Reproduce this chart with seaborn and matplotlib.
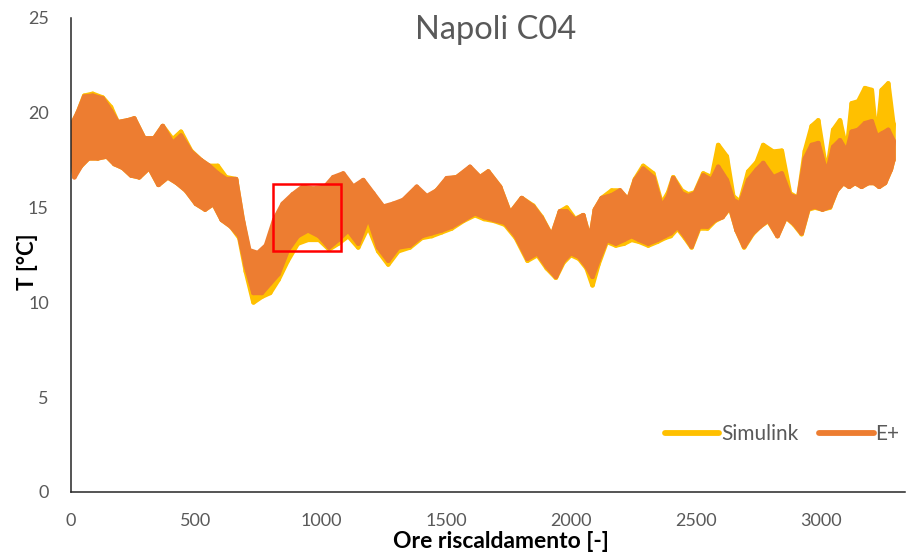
import matplotlib
matplotlib.use("Agg")
import matplotlib.pyplot as plt
from matplotlib.patches import Rectangle
from matplotlib.ticker import MultipleLocator
import pandas as pd
import seaborn as sns

# Hours of heating at which the daily peak / trough of each series was taken
ore = [0, 27, 53, 87, 127, 160, 187, 227, 253, 293, 333, 367, 407, 440, 480,
       520, 553, 587, 620, 660, 687, 713, 747, 780, 813, 847, 887, 927, 969,
       1016, 1049, 1089, 1129, 1169, 1209, 1249, 1289, 1329, 1383, 1423, 1463,
       1503, 1543, 1596, 1636, 1669, 1716, 1756, 1803, 1849, 1883, 1923, 1956,
       1983, 2016, 2049, 2076, 2096, 2123, 2163, 2196, 2229, 2256, 2289, 2329,
       2363, 2389, 2409, 2443, 2469, 2496, 2529, 2563, 2589, 2623, 2649, 2676,
       2709, 2743, 2769, 2809, 2843, 2876, 2909, 2936, 2963, 2989, 3023, 3049,
       3076, 3103, 3123, 3149, 3176, 3203, 3223, 3243, 3269, 3289]

# E+ daily maxima / minima [°C]
eplus_max = [19.3, 20.0, 20.85, 20.9, 20.75, 20.1, 19.5, 19.6, 19.7, 18.65,
             18.65, 19.3, 18.4, 18.8, 17.95, 17.5, 17.2, 16.8, 16.5, 16.5,
             14.35, 12.75, 12.6, 13.0, 14.35, 15.2, 15.7, 16.1, 16.0, 16.1,
             16.6, 16.8, 16.1, 16.45, 15.75, 15.05, 15.2, 15.4, 16.1, 15.6,
             15.9, 16.55, 16.6, 17.15, 16.6, 16.9, 16.1, 14.7, 15.5, 15.05,
             14.45, 13.5, 14.8, 14.8, 14.35, 14.6, 13.3, 14.9, 15.5, 15.65,
             15.9, 15.4, 16.45, 17.05, 16.6, 15.05, 15.6, 16.55, 15.75, 15.6,
             15.75, 16.7, 16.45, 17.15, 16.45, 15.4, 15.2, 16.45, 17.0, 17.35,
             16.6, 16.8, 15.65, 15.5, 17.6, 18.3, 18.4, 16.8, 18.2, 18.55,
             17.95, 19.0, 19.1, 19.45, 19.55, 18.75, 18.9, 19.1, 18.55]
eplus_min = [16.6, 17.2, 17.6, 17.6, 17.7, 17.3, 17.1, 16.7, 16.6, 17.1,
             16.2, 16.6, 16.3, 15.9, 15.2, 14.9, 15.2, 14.35, 14.0, 13.5,
             11.9, 10.5, 10.5, 11.0, 11.5, 12.75, 13.5, 13.8, 13.5, 12.9,
             13.3, 13.8, 13.1, 14.5, 12.9, 12.2, 12.9, 13.0, 13.5, 13.65,
             13.8, 14.0, 14.35, 14.7, 14.5, 14.35, 14.2, 13.5, 12.3, 12.6,
             11.9, 11.35, 12.2, 12.6, 12.4, 11.9, 11.35, 12.2, 13.3, 13.1,
             13.3, 13.5, 13.3, 13.1, 13.3, 13.5, 13.65, 14.0, 13.5, 12.95,
             14.0, 14.0, 14.35, 14.5, 15.05, 13.8, 12.95, 13.65, 14.0, 14.35,
             13.5, 14.5, 14.15, 13.65, 14.95, 15.05, 14.9, 15.05, 15.9, 16.3,
             16.1, 16.3, 16.1, 16.3, 16.3, 16.1, 16.3, 17.0, 17.5]

# Simulink daily maxima / minima [°C]
simulink_max = [19.3, 20.0, 20.9, 21.0, 20.8, 20.3, 19.5, 19.6, 19.7, 18.65,
                18.65, 19.3, 18.6, 19.0, 18.0, 17.5, 17.2, 17.2, 16.6, 16.5,
                14.3, 12.6, 12.4, 12.8, 14.1, 15.0, 15.5, 16.0, 15.9, 16.0,
                16.5, 16.7, 16.0, 16.4, 15.7, 15.0, 15.1, 15.3, 16.0, 15.5,
                15.9, 16.5, 16.6, 17.1, 16.6, 16.9, 16.1, 14.7, 15.5, 15.1,
                14.5, 13.5, 14.8, 15.0, 14.4, 14.6, 13.3, 14.9, 15.5, 15.9,
                15.9, 15.4, 16.5, 17.2, 16.8, 15.2, 15.8, 16.6, 15.9, 15.7,
                15.8, 16.8, 16.6, 18.3, 17.7, 15.6, 15.3, 16.9, 17.4, 18.3,
                17.95, 18.0, 15.75, 15.5, 18.0, 19.3, 19.6, 16.8, 19.1, 19.6,
                18.0, 20.5, 20.6, 21.3, 21.2, 18.55, 21.2, 21.55, 19.45]
simulink_min = [16.7, 17.2, 17.6, 17.6, 17.7, 17.3, 17.1, 16.7, 16.6, 17.1,
                16.2, 16.6, 16.3, 15.9, 15.2, 14.9, 15.2, 14.35, 14.0, 13.4,
                11.6, 10.0, 10.3, 10.5, 11.2, 12.2, 13.1, 13.3, 13.3, 12.8,
                13.1, 13.5, 12.9, 14.0, 12.7, 12.0, 12.7, 12.9, 13.4, 13.5,
                13.7, 13.9, 14.3, 14.6, 14.4, 14.3, 14.1, 13.4, 12.2, 12.5,
                11.8, 11.3, 12.1, 12.5, 12.3, 11.8, 10.9, 12.0, 13.2, 13.0,
                13.1, 13.3, 13.2, 13.0, 13.2, 13.4, 13.5, 13.9, 13.4, 12.9,
                13.9, 13.9, 14.3, 14.5, 15.0, 13.8, 12.9, 13.6, 14.0, 14.3,
                13.5, 14.5, 14.1, 13.6, 14.9, 15.0, 14.9, 15.0, 15.9, 16.3,
                16.1, 16.3, 16.1, 16.3, 16.3, 16.1, 16.3, 17.0, 17.5]

serie = ["Simulink", "E+"]
colori = {"Simulink": "#FFC000", "E+": "#ED7D31"}
valori = {"Simulink": (simulink_max, simulink_min),
          "E+": (eplus_max, eplus_min)}

# Highlighted window (hours, °C)
box_ore = (808, 1080)
box_t = (12.71, 16.24)

LW = 3.3


def trough_hours(x):
    """Each day's trough sits halfway between its peak and the next one."""
    out = []
    for i, h in enumerate(x):
        nxt = x[i + 1] if i + 1 < len(x) else h
        out.append((h + nxt) / 2)
    return out


ore_min = trough_hours(ore)

frames = []
for nome in serie:
    hi, lo = valori[nome]
    xs, ys = [], []
    for h, hm, a, b in zip(ore, ore_min, hi, lo):
        xs += [h, hm]
        ys += [a, b]
    frames.append(pd.DataFrame({"ore": xs, "T": ys, "serie": nome}))
df = pd.concat(frames, ignore_index=True)

sns.set_style("white")
plt.rcParams["font.family"] = ["Lato", "DejaVu Sans"]

W, H = 908, 554
fig = plt.figure(figsize=(W / 100, H / 100), dpi=100)
ax = fig.add_axes([71 / W, 62 / H, (905 - 71) / W, (492 - 18) / H])

sns.lineplot(data=df, x="ore", y="T", hue="serie", hue_order=serie,
             palette=colori, estimator=None, sort=False, linewidth=LW,
             ax=ax)

# The hourly cycle fills the band between daily peaks and troughs
line_z = {"Simulink": 2.1, "E+": 2.3}
for ln, nome in zip(ax.lines, serie):
    ln.set_solid_joinstyle("round")
    ln.set_solid_capstyle("round")
    ln.set_zorder(line_z[nome])
for nome in serie:
    hi, lo = valori[nome]
    px = list(ore) + list(ore_min)[::-1]
    py = list(hi) + list(lo)[::-1]
    ax.fill(px, py, facecolor=colori[nome], edgecolor=colori[nome],
            linewidth=LW, joinstyle="round", zorder=line_z[nome] - 0.05)

ax.add_patch(Rectangle((box_ore[0], box_t[0]), box_ore[1] - box_ore[0],
                       box_t[1] - box_t[0], fill=False, edgecolor="#FF0000",
                       linewidth=1.8, zorder=5))

ax.set_xlim(0, 3336)
ax.set_ylim(0, 25)
ax.xaxis.set_major_locator(MultipleLocator(500))
ax.xaxis.set_minor_locator(MultipleLocator(100))
ax.yaxis.set_major_locator(MultipleLocator(5))
ax.yaxis.set_minor_locator(MultipleLocator(1))

for s in ["top", "right"]:
    ax.spines[s].set_visible(False)
for s in ["left", "bottom"]:
    ax.spines[s].set_color("#262626")
    ax.spines[s].set_linewidth(1.1)

ax.tick_params(axis="both", which="both", direction="in", color="#262626",
               width=1.0, labelcolor="#595959", labelsize=13)
ax.tick_params(axis="y", which="both", length=5, pad=16)
ax.tick_params(axis="x", which="major", length=6, pad=15)
ax.tick_params(axis="x", which="minor", length=4)

ax.set_xlabel("")
ax.set_ylabel("")
fig.text(27 / W, 1 - 262 / H, "T [°C]", rotation=90, ha="center",
         va="center", fontsize=16, fontweight="bold", color="#000000")
fig.text(501 / W, 1 - 542 / H, "Ore riscaldamento [-]", ha="center",
         va="center", fontsize=16.5, fontweight="bold", color="#000000")
fig.text(496 / W, 1 - 30 / H, "Napoli C04", ha="center", va="center",
         fontsize=23.5, color="#595959")

handles, labels = ax.get_legend_handles_labels()
leg = ax.legend(handles, labels, loc="center right",
                bbox_to_anchor=(1.016, 0.122), ncol=2, frameon=False,
                fontsize=15, handlelength=2.6, handletextpad=0.1,
                columnspacing=1.0, labelcolor="#595959")
for ln in leg.get_lines():
    ln.set_linewidth(4.2)
    ln.set_solid_capstyle("round")

fig.savefig("out.png", dpi=100)
